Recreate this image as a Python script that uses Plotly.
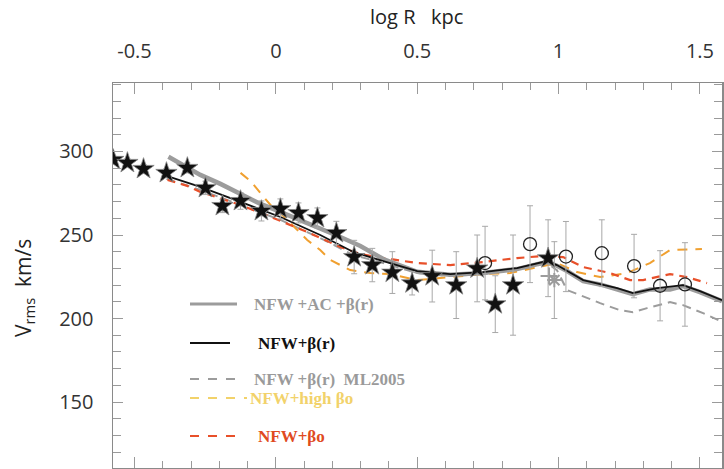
import plotly.graph_objects as go

# ---------------- data ----------------
star_x = [-0.575, -0.525, -0.468, -0.387, -0.313, -0.249, -0.189, -0.125, -0.051, 0.016,
          0.080, 0.147, 0.214, 0.277, 0.341, 0.412, 0.482, 0.553, 0.638, 0.712,
          0.776, 0.839, 0.963]
star_y = [295.0, 293.2, 289.6, 287.2, 290.2, 278.2, 267.4, 270.4, 264.4, 265.6,
          263.2, 260.2, 251.2, 236.8, 232.0, 227.5, 221.1, 225.4, 220.0, 230.0,
          208.6, 220.0, 236.1]
star_err = [2.5, 2.5, 2.5, 2.5, 3, 4, 4, 5, 6, 6,
            6, 6, 7, 10, 10, 12.5, 7, 15.5, 20, 20,
            17, 30, 23]

circle_x = [0.740, 0.899, 1.026, 1.153, 1.267, 1.359, 1.447]
circle_y = [233.2, 244.5, 237.1, 239.1, 231.4, 219.6, 220.4]
circle_err = [22, 23, 21, 20, 19, 21, 25]

cross_x = [0.966, 0.985]
cross_y = [225.5, 223.0]
cross_err = [0, 23]

ac_x = [-0.380, -0.313, -0.267, -0.196, -0.125, -0.054, 0.016, 0.087, 0.157, 0.228,
        0.299, 0.380, 0.500, 0.617, 0.733, 0.853, 0.959, 0.994, 1.030, 1.087,
        1.147, 1.207, 1.263, 1.323, 1.394, 1.440, 1.500, 1.578]
ac_y = [296.8, 290.8, 286.0, 280.6, 274.6, 268.6, 263.8, 259.0, 253.6, 248.8,
        243.4, 235.6, 228.0, 226.2, 227.3, 229.6, 233.9, 231.6, 228.4, 222.4,
        220.4, 217.6, 214.6, 217.4, 217.4, 219.4, 215.8, 210.4]

nfw_x = [-0.387, -0.267, -0.125, 0.016, 0.157, 0.274, 0.380, 0.500, 0.617, 0.733,
         0.853, 0.959, 0.994, 1.087, 1.207, 1.263, 1.348, 1.440, 1.500, 1.578]
nfw_y = [285.4, 278.8, 269.8, 260.8, 250.0, 239.8, 234.4, 228.4, 226.6, 227.8,
         230.2, 234.4, 232.0, 223.0, 218.2, 215.2, 218.2, 220.0, 216.4, 211.0]

ml_x = [-0.387, -0.267, -0.125, 0.016, 0.157, 0.274, 0.380, 0.500, 0.617, 0.733,
        0.853, 0.959, 0.994, 1.030, 1.076, 1.147, 1.217, 1.263, 1.313, 1.394,
        1.440, 1.511, 1.581]
ml_y = [283.6, 277.0, 268.0, 259.0, 248.2, 238.0, 233.2, 227.2, 225.4, 226.6,
        229.0, 233.2, 229.0, 217.0, 214.0, 209.2, 205.0, 203.8, 206.2, 209.8,
        208.0, 203.2, 197.8]

high_x = [-0.125, -0.090, -0.055, -0.019, 0.016, 0.069, 0.111, 0.157, 0.193, 0.263,
          0.334, 0.405, 0.500, 0.617, 0.733, 0.829, 0.924, 0.994, 1.065, 1.147,
          1.242, 1.323, 1.394, 1.465, 1.507]
high_y = [287.2, 282.4, 275.2, 268.0, 263.2, 254.2, 247.0, 241.0, 235.0, 229.0,
          227.2, 226.6, 223.0, 224.8, 226.6, 227.2, 230.8, 233.2, 227.8, 224.8,
          227.2, 233.2, 241.0, 241.6, 241.6]

beta_x = [-0.383, -0.313, -0.267, -0.125, -0.009, 0.111, 0.228, 0.299, 0.380, 0.500,
          0.617, 0.733, 0.853, 0.945, 1.016, 1.087, 1.182, 1.253, 1.299, 1.394,
          1.454, 1.525]
beta_y = [283.0, 279.4, 275.8, 268.0, 260.2, 251.8, 242.8, 238.6, 236.2, 233.2,
          232.0, 233.8, 236.2, 237.4, 236.8, 230.8, 227.2, 223.0, 223.0, 226.6,
          224.8, 221.2]

x_ticks = [-0.5, 0, 0.5, 1, 1.5]
x_tick_text = ["-0.5", "0", "0.5", "1", "1.5"]
y_ticks = [150, 200, 250, 300]

legend_labels = ["NFW +AC +β(r)", "NFW+β(r)", "NFW +β(r)  ML2005", "NFW+high βo", "NFW+βo"]

# ---------------- figure ----------------
GRAY = "#9c9c9c"
ERR = "#a8a8a8"
ORANGE = "#f0a030"
RED = "#e8502a"
YELLOW = "#f2d26a"

fig = go.Figure()

fig.add_trace(go.Scatter(x=ml_x, y=ml_y, mode="lines",
                         line=dict(color=GRAY, width=2, dash="9px,6px")))
fig.add_trace(go.Scatter(x=high_x, y=high_y, mode="lines",
                         line=dict(color=ORANGE, width=2, dash="10px,8px")))
fig.add_trace(go.Scatter(x=beta_x, y=beta_y, mode="lines",
                         line=dict(color=RED, width=2.2, dash="8px,6px")))
fig.add_trace(go.Scatter(x=ac_x, y=ac_y, mode="lines",
                         line=dict(color=GRAY, width=4.5)))
fig.add_trace(go.Scatter(x=nfw_x, y=nfw_y, mode="lines",
                         line=dict(color="#111111", width=1.8)))

fig.add_trace(go.Scatter(x=cross_x, y=cross_y, mode="markers",
                         marker=dict(symbol=["cross-thin-open", "asterisk-open"], size=12,
                                     color=GRAY, line=dict(color=GRAY, width=2)),
                         error_y=dict(type="data", array=cross_err, color=ERR,
                                      thickness=1, width=3)))
fig.add_trace(go.Scatter(x=circle_x, y=circle_y, mode="markers",
                         marker=dict(symbol="circle-open", size=13, color="#222222",
                                     line=dict(color="#222222", width=1.3)),
                         error_y=dict(type="data", array=circle_err, color=ERR,
                                      thickness=1, width=3)))
fig.add_trace(go.Scatter(x=star_x, y=star_y, mode="markers",
                         marker=dict(symbol="star", size=16, color="#111111",
                                     line=dict(color="#888888", width=0.8)),
                         error_y=dict(type="data", array=star_err, color=ERR,
                                      thickness=1, width=3)))

L, R, T, B = 113, 722, 83, 468
W, H = 724, 469


def px(xp):
    return (xp - L) / (R - L)


def py(yp):
    return (B - yp) / (B - T)


# legend samples
leg = [
    (190, 237, 304, GRAY, 3, "solid", 252, "#9a9a9a"),
    (190, 230, 343, "#111111", 2, "solid", 256, "#111111"),
    (190, 243, 379, GRAY, 2, "dash", 252, "#9a9a9a"),
    (190, 247, 398, YELLOW, 2, "dash", 248, YELLOW),
    (190, 243, 436, RED, 2.2, "dash", 256, "#e04a20"),
]
shapes = []
annotations = []
for (x0, x1, yy, col, wd, dsh, tx, tcol), lab in zip(leg, legend_labels):
    shapes.append(dict(type="line", xref="paper", yref="paper",
                       x0=px(x0), x1=px(x1), y0=py(yy), y1=py(yy),
                       line=dict(color=col, width=wd, dash=dsh)))
    annotations.append(dict(xref="paper", yref="paper", x=px(tx), y=py(yy),
                            xanchor="left", yanchor="middle", showarrow=False,
                            text="<b>" + lab + "</b>",
                            font=dict(family="Liberation Serif", size=17, color=tcol)))

annotations.append(dict(xref="paper", yref="paper", x=px(416), y=py(17),
                        xanchor="center", yanchor="middle", showarrow=False,
                        text="log R   kpc",
                        font=dict(family="Open Sans", size=20, color="#222222")))
annotations.append(dict(xref="paper", yref="paper", x=px(24), y=py(288),
                        xanchor="center", yanchor="middle", showarrow=False,
                        textangle=-90, text="V<sub>rms</sub>  km/s",
                        font=dict(family="Open Sans", size=21, color="#222222")))

axis_common = dict(showline=True, linecolor="#8a8a8a", linewidth=1.5, mirror="ticks",
                   ticks="inside", tickcolor="#9a9a9a", tickwidth=1,
                   showgrid=False, zeroline=False, automargin=False)

fig.update_layout(
    width=W, height=H,
    margin=dict(l=L, r=W - R, t=T, b=H - B, autoexpand=False),
    paper_bgcolor="white", plot_bgcolor="white",
    showlegend=False,
    shapes=shapes, annotations=annotations,
    xaxis=dict(range=[-0.576, 1.578], side="top", tickvals=x_ticks, ticktext=x_tick_text,
               ticklen=11, ticklabelstandoff=16,
               tickfont=dict(family="Open Sans", size=20, color="#333333"),
               minor=dict(dtick=0.1, tick0=0, ticks="inside", ticklen=7,
                          tickcolor="#9a9a9a", tickwidth=1, showgrid=False),
               **axis_common),
    yaxis=dict(range=[110.5, 341], tickvals=y_ticks, ticklen=10, ticklabelstandoff=14,
               tickfont=dict(family="Open Sans", size=20, color="#333333"),
               minor=dict(dtick=10, tick0=0, ticks="inside", ticklen=8,
                          tickcolor="#9a9a9a", tickwidth=1, showgrid=False),
               **axis_common),
)

fig.write_html("out.html",
               config={"displayModeBar": False, "staticPlot": True},
               post_script="document.body.style.margin='0';"
                           "document.body.style.overflow='hidden';")
